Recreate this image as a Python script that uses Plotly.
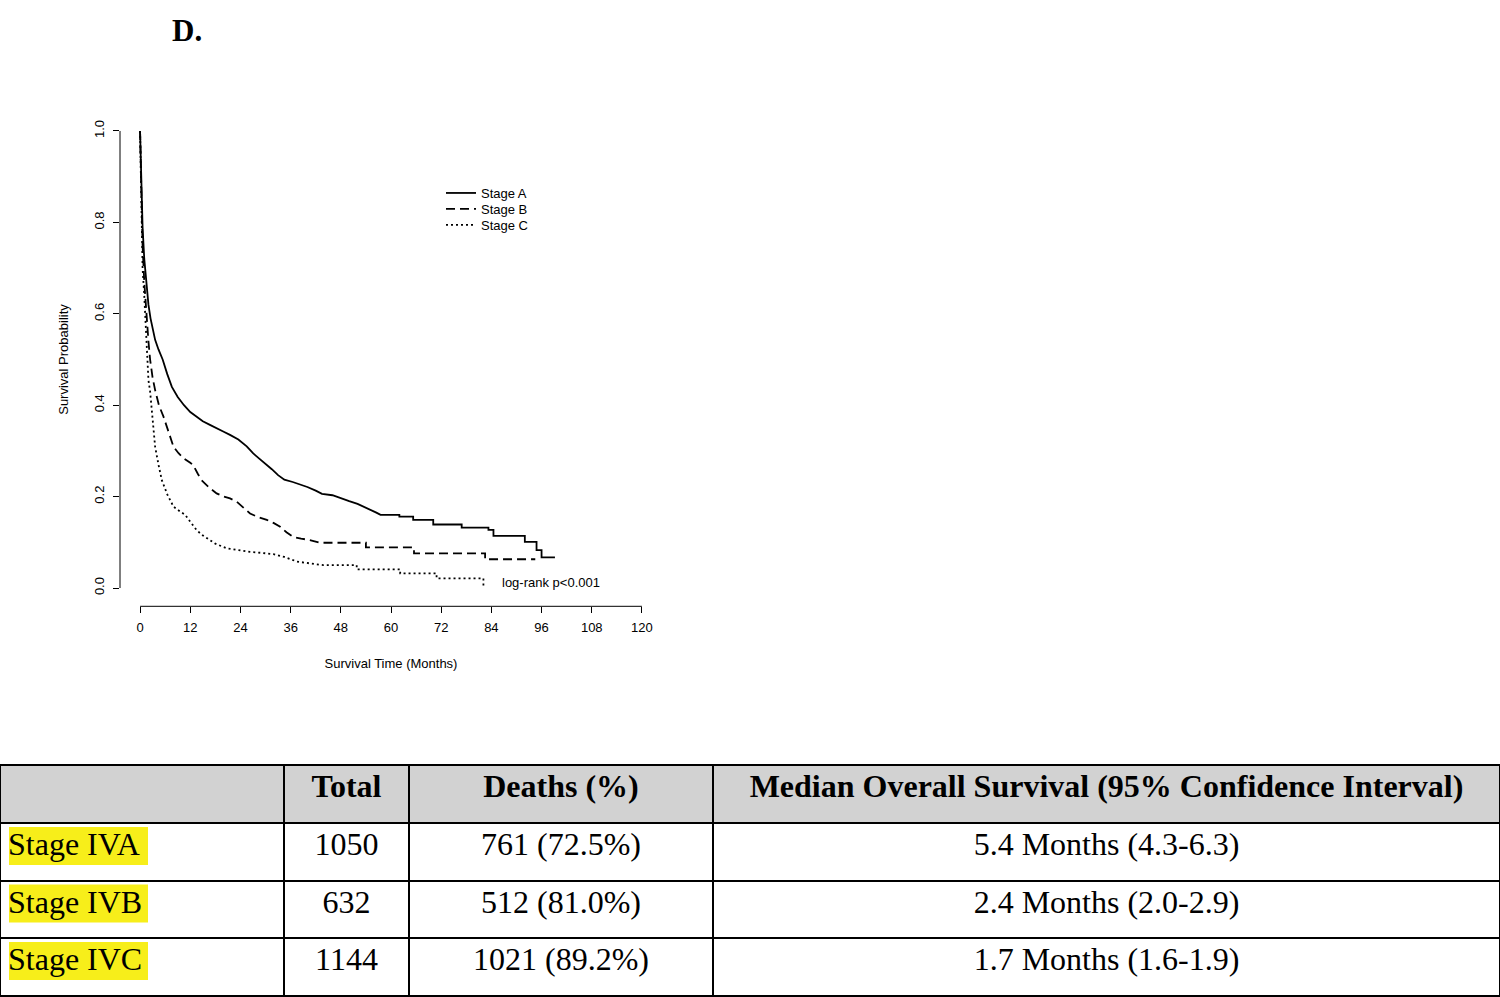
import plotly.graph_objects as go

# ---------------- data ----------------
stage_names = ["Stage A", "Stage B", "Stage C"]

time_a = [0, 0.3, 0.6, 1.0, 1.5, 2.0, 2.5, 3.0, 3.6, 4.4, 5.4, 6.5, 7.6, 9.0, 10.5, 12.0, 13.5,
          15.0, 16.7, 18.5, 20.0, 21.5, 23.5, 25.5, 27.0, 28.5, 30.0, 31.5, 33.0, 34.5, 36.5,
          38.5, 40.0, 42.0, 43.5, 46.0, 48.0, 50.0, 52.0, 54.0, 56.5, 57.5, 62.0, 62.0, 65.3,
          65.3, 70.1, 70.1, 76.9, 76.9, 83.3, 83.3, 84.5, 84.5, 92.0, 92.0, 94.8, 94.8, 96.0,
          96.0, 99.2]
surv_a = [1.0, 0.88, 0.79, 0.72, 0.66, 0.62, 0.59, 0.565, 0.543, 0.522, 0.50, 0.468, 0.44, 0.418,
          0.40, 0.385, 0.375, 0.365, 0.357, 0.348, 0.342, 0.335, 0.325, 0.31, 0.295, 0.283,
          0.272, 0.26, 0.247, 0.237, 0.232, 0.226, 0.221, 0.213, 0.206, 0.203, 0.196, 0.19,
          0.184, 0.176, 0.165, 0.16, 0.16, 0.156, 0.156, 0.149, 0.149, 0.139, 0.139, 0.132,
          0.132, 0.127, 0.127, 0.114, 0.114, 0.101, 0.101, 0.083, 0.083, 0.067, 0.067]

time_b = [0, 0.3, 0.6, 1.0, 1.5, 2.0, 2.4, 3.0, 3.6, 4.5, 5.6, 6.8, 8.0, 9.2, 10.4, 12.0, 12.7,
          13.8, 14.7, 16.5, 18.3, 20.0, 21.5, 23.1, 24.5, 26.3, 28.3, 30.3, 32.0, 33.5, 35.0,
          36.6, 38.5, 40.6, 43.0, 54.0, 54.0, 65.5, 65.5, 82.5, 82.5, 94.5]
surv_b = [1.0, 0.85, 0.75, 0.67, 0.60, 0.54, 0.50, 0.46, 0.433, 0.40, 0.375, 0.34, 0.309, 0.295,
          0.284, 0.274, 0.269, 0.25, 0.236, 0.22, 0.207, 0.20, 0.196, 0.189, 0.177, 0.163,
          0.155, 0.149, 0.142, 0.134, 0.122, 0.112, 0.108, 0.105, 0.099, 0.099, 0.089, 0.089,
          0.076, 0.076, 0.063, 0.063]

time_c = [0, 0.3, 0.6, 1.0, 1.3, 1.7, 2.0, 2.4, 2.8, 3.2, 3.6, 4.4, 5.2, 6.5, 8.0, 9.5, 10.8,
          12.0, 13.5, 14.7, 15.9, 18.0, 20.7, 23.5, 26.3, 29.0, 31.9, 34.5, 37.5, 40.5, 43.8,
          51.8, 51.8, 62.2, 62.2, 70.9, 70.9, 82.1, 82.1]
surv_c = [1.0, 0.80, 0.70, 0.64, 0.59, 0.50, 0.455, 0.43, 0.39, 0.35, 0.309, 0.27, 0.236, 0.205,
          0.178, 0.168, 0.16, 0.145, 0.127, 0.117, 0.109, 0.097, 0.087, 0.083, 0.079, 0.077,
          0.074, 0.068, 0.058, 0.054, 0.05, 0.05, 0.041, 0.041, 0.032, 0.032, 0.021, 0.021,
          0.005]

x_ticks = [0, 12, 24, 36, 48, 60, 72, 84, 96, 108, 120]
y_ticks = [0.0, 0.2, 0.4, 0.6, 0.8, 1.0]

table_header = ["", "Total", "Deaths (%)", "Median Overall Survival (95% Confidence Interval)"]
table_stage = ["Stage IVA", "Stage IVB", "Stage IVC"]
table_total = ["1050", "632", "1144"]
table_deaths = ["761 (72.5%)", "512 (81.0%)", "1021 (89.2%)"]
table_median = ["5.4 Months (4.3-6.3)", "2.4 Months (2.0-2.9)", "1.7 Months (1.6-1.9)"]

# ---------------- figure ----------------
W, H = 1500, 997
SANS = "Liberation Sans, Arial, sans-serif"
SERIF = "Liberation Serif, Times New Roman, serif"

fig = go.Figure()

dashes = ["solid", "9px,5px", "2px,3px"]
legend_ids = ["legend", "legend2", "legend3"]
series = [(time_a, surv_a), (time_b, surv_b), (time_c, surv_c)]
for name, (t, s), d, lg in zip(stage_names, series, dashes, legend_ids):
    fig.add_trace(go.Scatter(
        x=t, y=s, mode="lines", name=name, legend=lg,
        line=dict(color="black", width=1.8, dash=d),
    ))

fig.add_trace(go.Table(
    domain=dict(x=[0, 1], y=[0, 1 - 765 / H]),
    columnwidth=[284, 125, 304, 787],
    header=dict(
        values=table_header,
        fill_color="#d2d2d2",
        line=dict(color="black", width=2),
        align="center",
        height=58,
        font=dict(family=SERIF, size=32, color="black", weight="bold"),
    ),
    cells=dict(
        values=[table_stage, table_total, table_deaths, table_median],
        fill_color="rgba(0,0,0,0)",
        line=dict(color="black", width=2),
        align=["left", "center", "center", "center"],
        height=57.5,
        font=dict(family=SERIF, size=32, color="black"),
    ),
))

# yellow highlight behind stage labels
for i in range(len(table_stage)):
    top = 823 + i * 57.5
    fig.add_shape(type="rect", xref="paper", yref="paper", layer="below",
                  x0=9 / W, x1=148 / W, y0=1 - (top + 42) / H, y1=1 - (top + 4) / H,
                  fillcolor="#f7ee1a", line=dict(width=0))

# R-style detached axis lines
fig.add_shape(type="line", xref="x", yref="y domain", x0=0, x1=120, y0=0, y1=0,
              line=dict(color="black", width=1))
fig.add_shape(type="line", xref="x domain", yref="y", x0=0, x1=0, y0=0, y1=1,
              line=dict(color="black", width=1))

fig.add_annotation(x=86, y=0.013, xref="x", yref="y", text="log-rank p<0.001",
                   showarrow=False, xanchor="left", yanchor="middle",
                   font=dict(family=SANS, size=13, color="black"))
fig.add_annotation(x=187 / W, y=1 - 30 / H, xref="paper", yref="paper", text="D.",
                   showarrow=False, xanchor="center", yanchor="middle",
                   font=dict(family=SERIF, size=31, color="black", weight="bold"))

legend_style = dict(x=441 / W, xanchor="left", yanchor="middle",
                    bgcolor="rgba(0,0,0,0)", font=dict(size=13))

fig.update_layout(
    width=W, height=H,
    margin=dict(l=0, r=0, t=0, b=0),
    paper_bgcolor="white", plot_bgcolor="white",
    font=dict(family=SANS, size=13, color="black"),
    showlegend=True,
    legend=dict(y=1 - 193 / H, **legend_style),
    legend2=dict(y=1 - 209 / H, **legend_style),
    legend3=dict(y=1 - 225 / H, **legend_style),
    xaxis=dict(domain=[120 / W, 662 / W], range=[-4.8, 124.8], tickvals=x_ticks,
               ticks="outside", ticklen=6, tickcolor="black", showgrid=False,
               zeroline=False, showline=False, tickfont=dict(size=13), ticklabelstandoff=3,
               title=dict(text="Survival Time (Months)", standoff=24, font=dict(size=13))),
    yaxis=dict(domain=[1 - 606.3 / H, 1 - 112.7 / H], range=[-0.04, 1.04], tickvals=y_ticks,
               tickformat=".1f", tickangle=-90, ticks="outside", ticklen=6, tickcolor="black",
               showgrid=False, zeroline=False, showline=False, tickfont=dict(size=13),
               ticklabelstandoff=4,
               title=dict(text="Survival Probability", standoff=20, font=dict(size=13))),
)

fig.write_html("out.html", config={"displayModeBar": False},
               post_script="document.body.style.margin='0';")
